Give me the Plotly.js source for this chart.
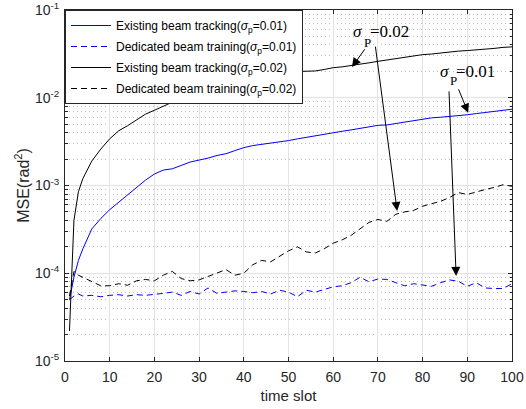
<!DOCTYPE html>
<html>
<head>
<meta charset="utf-8">
<script src="https://cdn.plot.ly/plotly-3.0.1.min.js"></script>
<style>html,body{margin:0;padding:0;background:#fff;}#chart{width:526px;height:409px;}</style>
</head>
<body>
<div id="chart"></div>
<script>
var timeSlot = [1,2,3,4,6,8,10,12,14,16,18,20,22,24,26,28,30,32,34,36,38,40,42,44,46,48,50,52,54,56,58,60,62,64,66,68,70,72,74,76,78,80,82,84,86,88,90,92,94,96,98,100];

var trackingP001 = [5e-5,9e-5,1.4e-4,1.9e-4,3.2e-4,4.2e-4,5.3e-4,6.4e-4,7.8e-4,9.5e-4,1.15e-3,1.35e-3,1.5e-3,1.55e-3,1.7e-3,1.85e-3,1.95e-3,2.05e-3,2.2e-3,2.3e-3,2.5e-3,2.7e-3,2.85e-3,2.95e-3,3.0e-3,3.1e-3,3.25e-3,3.4e-3,3.55e-3,3.7e-3,3.85e-3,4.0e-3,4.15e-3,4.3e-3,4.5e-3,4.7e-3,4.85e-3,4.9e-3,5.1e-3,5.3e-3,5.5e-3,5.7e-3,5.9e-3,6.0e-3,6.1e-3,6.3e-3,6.4e-3,6.6e-3,6.8e-3,7.0e-3,7.2e-3,7.4e-3];

var trainingP001 = [5e-5,5.5e-5,5.8e-5,5.5e-5,5.6e-5,5.4e-5,5.6e-5,5.7e-5,5.5e-5,5.7e-5,5.6e-5,5.8e-5,5.9e-5,6.1e-5,5.6e-5,6.2e-5,5.8e-5,6.8e-5,5.9e-5,6.1e-5,6.3e-5,6.2e-5,6.0e-5,6.2e-5,5.8e-5,6.4e-5,6.1e-5,5.4e-5,6.4e-5,6.1e-5,6.6e-5,7.0e-5,7.2e-5,7.8e-5,9.0e-5,8.0e-5,8.6e-5,8.5e-5,7.8e-5,7.2e-5,7.6e-5,7.4e-5,7.1e-5,7.8e-5,8.4e-5,8.1e-5,7.1e-5,7.8e-5,6.8e-5,6.7e-5,6.7e-5,7.6e-5];

var trackingP002 = [2.2e-5,4e-4,8.5e-4,1.2e-3,1.9e-3,2.6e-3,3.4e-3,4.2e-3,4.8e-3,5.6e-3,6.5e-3,7.2e-3,8.0e-3,9.0e-3,1.0e-2,1.1e-2,1.2e-2,1.3e-2,1.4e-2,1.5e-2,1.6e-2,1.75e-2,1.85e-2,1.92e-2,1.95e-2,1.97e-2,1.98e-2,2.0e-2,2.0e-2,2.02e-2,2.1e-2,2.2e-2,2.25e-2,2.32e-2,2.4e-2,2.5e-2,2.6e-2,2.7e-2,2.8e-2,2.9e-2,3.0e-2,3.1e-2,3.15e-2,3.25e-2,3.3e-2,3.4e-2,3.45e-2,3.5e-2,3.6e-2,3.65e-2,3.75e-2,3.8e-2];

var trainingP002 = [5.5e-5,1.05e-4,9.5e-5,9e-5,8e-5,7.2e-5,7.2e-5,7.6e-5,7.3e-5,8.2e-5,8.5e-5,8.2e-5,9.5e-5,1.05e-4,8.7e-5,8.2e-5,8.4e-5,9.2e-5,1.0e-4,1.1e-4,9.5e-5,1.0e-4,1.25e-4,1.4e-4,1.35e-4,1.55e-4,1.8e-4,2.0e-4,1.75e-4,1.7e-4,1.9e-4,2.2e-4,2.4e-4,2.7e-4,3.2e-4,3.8e-4,4.1e-4,3.9e-4,4.7e-4,5.0e-4,5.2e-4,5.8e-4,6.2e-4,6.6e-4,7.3e-4,8.3e-4,7.9e-4,8.5e-4,9.0e-4,9.5e-4,1.02e-3,9.8e-4];

var seriesNames = [
  'Existing beam tracking(<i>σ</i><sub>p</sub>=0.01)',
  'Dedicated beam training(<i>σ</i><sub>p</sub>=0.01)',
  'Existing beam tracking(<i>σ</i><sub>p</sub>=0.02)',
  'Dedicated beam training(<i>σ</i><sub>p</sub>=0.02)'
];
var xTickVals = [0,10,20,30,40,50,60,70,80,90,100];
var yTickVals = [1e-5,1e-4,1e-3,1e-2,1e-1];
var yTickText = ['10<sup>-5</sup>','10<sup>-4</sup>','10<sup>-3</sup>','10<sup>-2</sup>','10<sup>-1</sup>'];

var BLUE = '#0000ff', BLACK = '#000000';
var DASH = '6px,4px';
var traces = [
  {x: timeSlot, y: trackingP001, name: seriesNames[0], legendgroup: 'a', mode: 'lines', line: {color: BLUE, width: 1}},
  {x: timeSlot, y: trainingP001, name: seriesNames[1], legendgroup: 'b', mode: 'lines', line: {color: BLUE, width: 1, dash: DASH}},
  {x: timeSlot, y: trackingP002, name: seriesNames[2], legendgroup: 'c', mode: 'lines', line: {color: BLACK, width: 1}},
  {x: timeSlot, y: trainingP002, name: seriesNames[3], legendgroup: 'd', mode: 'lines', line: {color: BLACK, width: 1, dash: DASH}}
];

function arrow(tx, ty, hx, hy) {
  return {xref: 'x', yref: 'y', axref: 'x', ayref: 'y', x: hx, y: hy, ax: tx, ay: ty,
    text: '', showarrow: true, arrowhead: 2, arrowsize: 1.8, arrowwidth: 1, arrowcolor: '#000', standoff: 0, startstandoff: 0};
}
function label(x, y, t, size) {
  return {xref: 'x', yref: 'y', x: x, y: y, text: t, showarrow: false,
    font: {family: 'Liberation Serif, Times New Roman, serif', size: size, color: '#000'}};
}

var layout = {
  width: 526, height: 409,
  margin: {l: 65, r: 14, t: 10, b: 48},
  paper_bgcolor: '#fff', plot_bgcolor: '#fff',
  font: {family: 'Liberation Sans, Arial, sans-serif', size: 14, color: '#262626'},
  showlegend: true,
  legend: {x: 0, y: 1, xanchor: 'left', yanchor: 'top', bgcolor: '#fff', bordercolor: '#262626', borderwidth: 1,
    font: {family: 'Liberation Sans, Arial, sans-serif', size: 12, color: '#000'}, itemwidth: 40, tracegroupgap: 2},
  xaxis: {
    range: [0, 100], tickvals: xTickVals, ticks: 'inside', ticklen: 4, tickcolor: '#262626',
    showline: true, linecolor: '#262626', linewidth: 1, mirror: 'allticks',
    showgrid: true, gridcolor: '#e3e3e3', gridwidth: 1, zeroline: false,
    tickfont: {size: 14, color: '#262626'}, ticklabelstandoff: 3,
    title: {text: 'time slot', font: {size: 15, color: '#262626'}, standoff: 6}
  },
  yaxis: {
    type: 'log', range: [-5, -1], tickmode: 'array', tickvals: yTickVals, ticktext: yTickText,
    ticks: 'inside', ticklen: 4, tickcolor: '#262626',
    showline: true, linecolor: '#262626', linewidth: 1, mirror: 'allticks',
    showgrid: true, gridcolor: '#e3e3e3', gridwidth: 1, zeroline: false,
    tickfont: {size: 14, color: '#262626'}, ticklabelstandoff: 2, ticklabeloverflow: 'allow',
    minor: {tickmode: 'linear', dtick: 'D1', ticks: 'inside', ticklen: 2.5, tickcolor: '#262626', showgrid: true, gridcolor: '#bdbdbd', griddash: '1px,3px', gridwidth: 1},
    title: {text: 'MSE(rad<sup>2</sup>)', font: {size: 16, color: '#262626'}, standoff: 1}
  },
  annotations: [
    label(65.5, -1.25, '<i>σ</i>', 17),
    label(72.7, -1.25, '=0.02', 17),
    label(67.6, -1.375, 'P', 13),
    label(85.0, -1.705, '<i>σ</i>', 17),
    label(91.9, -1.705, '=0.01', 17),
    label(87.0, -1.807, 'P', 13),
    arrow(67.3, -1.43, 64.2, -1.65),
    arrow(69.4, -1.40, 74.3, -3.29),
    arrow(87.9, -1.886, 90.2, -2.17),
    arrow(85.9, -1.91, 87.5, -4.03)
  ]
};

Plotly.newPlot('chart', traces, layout, {displayModeBar: false, staticPlot: true});
</script>
</body>
</html>
